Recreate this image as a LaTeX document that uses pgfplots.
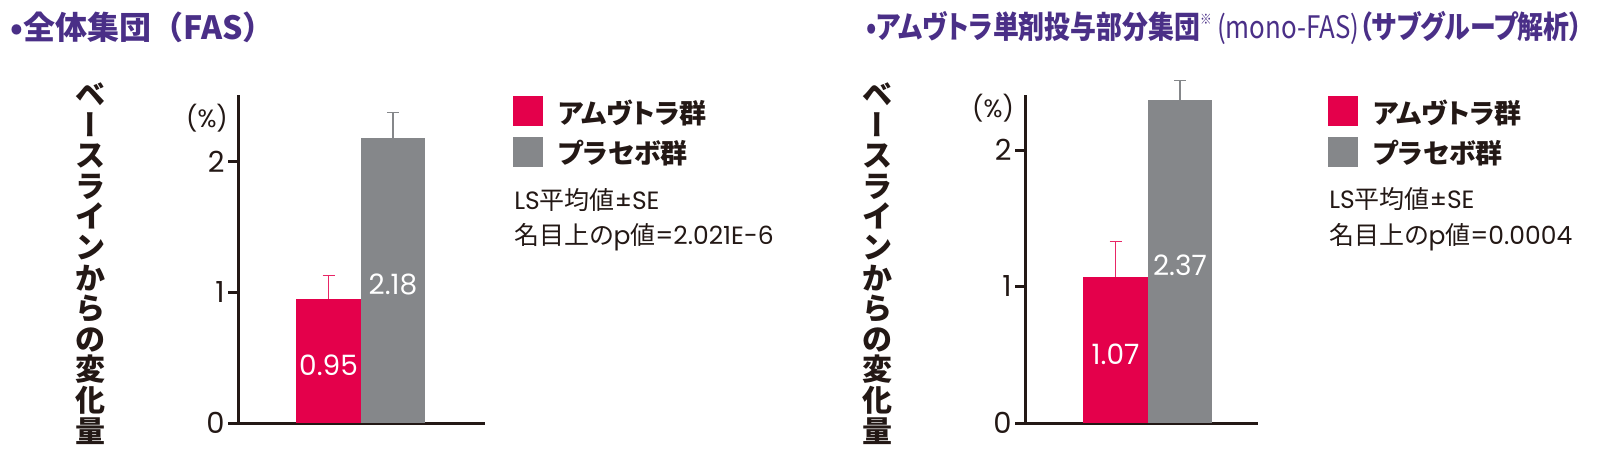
\documentclass[border=0pt]{standalone}
\usepackage{fontspec}
\usepackage{graphicx}
\usepackage{pgfplots}
\pgfplotsset{compat=1.18}
\setmainfont{Noto Sans CJK JP}
\newfontfamily\jp{Noto Sans CJK JP}
\newfontfamily\jpp{Noto Sans CJK JP}[RawFeature=+palt]
\newfontfamily\jpc{Noto Sans CJK JP}[RawFeature=+palt, FakeStretch=0.835]
\newfontfamily\num{Poppins}
\definecolor{amred}{HTML}{E4004B}
\definecolor{plgray}{HTML}{85878A}
\definecolor{ttl}{HTML}{4A2F87}
\definecolor{ink}{HTML}{231815}

\pgfplotstableread{
x y e lab
0 0.95 0.18 0.95
}\leftA
\pgfplotstableread{
x y e lab
1 2.18 0.20 2.18
}\leftP
\pgfplotstableread{
x y e lab
0 1.07 0.26 1.07
}\rightA
\pgfplotstableread{
x y e lab
1 2.37 0.14 2.37
}\rightP

\pgfplotsset{
 myleg/.style={legend image code/.code={\fill[##1,draw=none] (0pt,-6.5pt) rectangle (15pt,8.5pt); \path (22.5pt,0pt);}},
 mybars/.style={
  scale only axis, clip=false,
  ymin=0, ytick={0,1,2},
  xtick=\empty,
  axis x line*=bottom, axis y line*=left,
  axis line style={line width=1.5pt, ink, -},
  tick align=outside, major tick length=5pt,
  every tick/.style={line width=1.5pt, ink},
  /pgf/number format/assume math mode=true,
  yticklabel style={font=\num\fontsize{14.5}{14.5}\selectfont, text=ink, inner sep=1.5pt},
  ybar, bar width=1, bar shift=0pt,
  legend cell align=left,
  legend style={draw=none, fill=none, inner sep=0pt, row sep=5pt, anchor=north west,
    font=\jpp\bfseries\fontsize{13.5}{13.5}\selectfont, text=ink, nodes={inner sep=0pt}},
  nodes near coords,
  point meta=explicit symbolic,
  visualization depends on={\thisrow{y} \as \rawy},
  every node near coord/.append style={anchor=center, shift={(axis direction cs:0,-\rawy/2)}, yshift=-2pt,
    font=\num\fontsize{14}{14}\selectfont, text=white},
 },
 redbar/.style={fill=amred, draw=none, myleg,
   error bars/.cd, y dir=plus, y explicit,
   error bar style={line width=0.6pt, amred!85},
   error mark options={rotate=90, mark size=3pt, line width=0.6pt, amred!85}},
 graybar/.style={fill=plgray, draw=none, myleg,
   error bars/.cd, y dir=plus, y explicit,
   error bar style={line width=0.6pt, plgray},
   error mark options={rotate=90, mark size=3pt, line width=0.6pt, plgray}},
}

\newcommand{\ylab}{ベ\\{\addfontfeature{RawFeature=+vert}ー}\\ス\\ラ\\イ\\ン\\か\\ら\\の\\変\\化\\量}

\begin{document}
\begin{tikzpicture}
\path[use as bounding box] (0,0) rectangle (800pt,231.5pt);

% titles
\node[anchor=west, inner sep=0pt, text=ttl, font=\jp\bfseries\fontsize{16}{16}\selectfont] at (5pt,218pt) {•全体集団（FAS）};
\node[anchor=west, inner sep=0pt, text=ttl, font=\jpc\bfseries\fontsize{15.5}{15.5}\selectfont] at (433pt,217.5pt)
  {•アムヴトラ単剤投与部分集団\raisebox{0.45em}{\fontsize{7}{7}\selectfont ※}\,{\mdseries(mono-FAS)}（サブグループ解析）};

% y labels
\node[inner sep=0pt, align=center, text=ink, font=\jp\bfseries\fontsize{15}{15.3}\selectfont] at (45pt,99.75pt) {\ylab};
\node[inner sep=0pt, align=center, text=ink, font=\jp\bfseries\fontsize{15}{15.3}\selectfont] at (438.5pt,99.75pt) {\ylab};

% (%)
\node[inner sep=0pt, text=ink, font=\num\fontsize{12.5}{12.5}\selectfont] at (103.5pt,172.5pt) {(\%)};
\node[inner sep=0pt, text=ink, font=\num\fontsize{12.5}{12.5}\selectfont] at (496.5pt,177.5pt) {(\%)};

% notes
\node[anchor=west, inner sep=0pt, text=ink, font=\jpp\fontsize{12.5}{12.5}\selectfont] at (257pt,131.5pt) {{\num LS}平均値{\num ±SE}};
\node[anchor=west, inner sep=0pt, text=ink, font=\jpp\fontsize{12.5}{12.5}\selectfont] at (257pt,113pt) {名目上の{\num p}値{\num =2.021E-6}};
\node[anchor=west, inner sep=0pt, text=ink, font=\jpp\fontsize{12.5}{12.5}\selectfont] at (664.5pt,132pt) {{\num LS}平均値{\num ±SE}};
\node[anchor=west, inner sep=0pt, text=ink, font=\jpp\fontsize{12.5}{12.5}\selectfont] at (664.5pt,113pt) {名目上の{\num p}値{\num =0.0004}};

\begin{axis}[mybars, at={(119pt,20pt)}, anchor=south west, width=123.5pt, height=164pt,
  xmin=-1.403, xmax=2.426, ymax=2.513, legend style={at={(1.1134,0.997)}}]
\addplot[redbar] table[x=x, y=y, y error=e, meta=lab] {\leftA};
\addlegendentry{アムヴトラ群}
\addplot[graybar] table[x=x, y=y, y error=e, meta=lab] {\leftP};
\addlegendentry{プラセボ群}
\end{axis}

\begin{axis}[mybars, at={(512.5pt,20pt)}, anchor=south west, width=116.5pt, height=164pt,
  xmin=-1.403, xmax=2.209, ymax=2.403, legend style={at={(1.3004,0.997)}}]
\addplot[redbar] table[x=x, y=y, y error=e, meta=lab] {\rightA};
\addlegendentry{アムヴトラ群}
\addplot[graybar] table[x=x, y=y, y error=e, meta=lab] {\rightP};
\addlegendentry{プラセボ群}
\end{axis}
\end{tikzpicture}
\end{document}
